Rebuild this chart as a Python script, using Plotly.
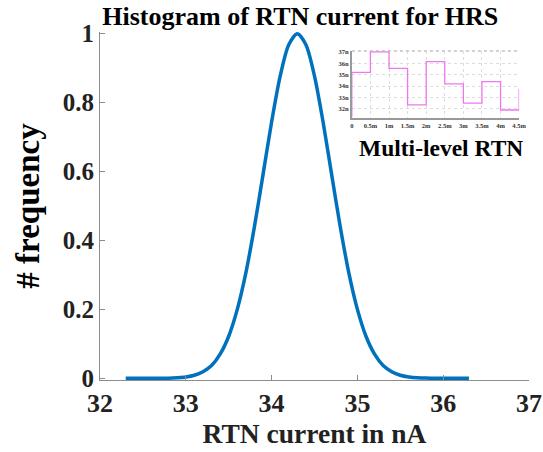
import plotly.graph_objects as go

# Normalised histogram envelope of RTN current (HRS)
current_nA = [32.3, 32.4, 32.5, 32.6, 32.7, 32.8, 32.9, 33.0, 33.1, 33.2,
              33.3, 33.4, 33.5, 33.6, 33.7, 33.8, 33.9, 34.0, 34.1, 34.2,
              34.3, 34.4, 34.5, 34.6, 34.7, 34.8, 34.9, 35.0, 35.1, 35.2,
              35.3, 35.4, 35.5, 35.6, 35.7, 35.8, 35.9, 36.0, 36.1, 36.2, 36.3]
frequency = [0.0, 0.0, 0.0, 0.0, 0.0, 0.0002, 0.0016, 0.0039, 0.0088, 0.019,
             0.037, 0.070, 0.122, 0.200, 0.306, 0.440, 0.591, 0.744, 0.877, 0.968,
             1.0, 0.968, 0.877, 0.744, 0.591, 0.440, 0.306, 0.200, 0.122, 0.070,
             0.037, 0.019, 0.0088, 0.0039, 0.0016, 0.0006, 0.0002, 0.0, 0.0, 0.0, 0.0]

# Multi-level RTN trace (time in s, current in nA)
rtn_time = [0, 0, 0.0005, 0.001, 0.0015, 0.002, 0.0025, 0.003, 0.0035, 0.004, 0.0045]
rtn_level = [31.3, 35.2, 37.0, 35.55, 32.35, 36.15, 34.2, 32.5, 34.4, 31.9, 33.75]

x_ticks = [32, 33, 34, 35, 36, 37]
y_ticks = [0, 0.2, 0.4, 0.6, 0.8, 1]
y_ticktext = ["0", "0.2", "0.4", "0.6", "0.8", "1"]
inset_xticks = [0, 0.0005, 0.001, 0.0015, 0.002, 0.0025, 0.003, 0.0035, 0.004, 0.0045]
inset_xtext = ["0", "0.5m", "1m", "1.5m", "2m", "2.5m", "3m", "3.5m", "4m", "4.5m"]
inset_yticks = [32, 33, 34, 35, 36, 37]
inset_ytext = ["32n", "33n", "34n", "35n", "36n", "37n"]

SERIF = "Liberation Serif, Times New Roman, serif"
AXIS_GRAY = "#8c8c8c"

fig = go.Figure()

fig.add_trace(go.Scatter(
    x=current_nA, y=frequency, mode="lines",
    line=dict(color="#0072BD", width=3.5, shape="spline", smoothing=0.8),
    xaxis="x", yaxis="y", showlegend=False,
))

fig.add_trace(go.Scatter(
    x=rtn_time, y=rtn_level, mode="lines",
    line=dict(color="#EE77EE", width=1.3, shape="hv"),
    xaxis="x2", yaxis="y2", showlegend=False,
))

fig.update_layout(
    width=543, height=452,
    margin=dict(l=100, r=14, t=32, b=72, autoexpand=False),
    paper_bgcolor="white", plot_bgcolor="white",
    font=dict(family=SERIF, color="black"),
    title=dict(
        text="<b>Histogram of RTN current for HRS</b>",
        x=0.553, xanchor="center", y=0.964, yanchor="middle",
        font=dict(family=SERIF, size=26, color="black"),
    ),
    xaxis=dict(
        range=[32, 37], tickvals=x_ticks, ticktext=["<b>%d</b>" % v for v in x_ticks],
        showgrid=False, zeroline=False, showline=True, linecolor=AXIS_GRAY, linewidth=1,
        ticks="inside", ticklen=5, tickcolor=AXIS_GRAY, automargin=False,
        tickfont=dict(family=SERIF, size=26, color="#222"),
        title=dict(text="<b>RTN current in nA</b>", font=dict(family=SERIF, size=27.5, color="#222"), standoff=4),
    ),
    yaxis=dict(
        range=[-0.005, 1.005], tickvals=y_ticks, ticktext=["<b>%s</b>" % t for t in y_ticktext],
        showgrid=False, zeroline=False, showline=True, linecolor=AXIS_GRAY, linewidth=1,
        ticks="inside", ticklen=5, tickcolor=AXIS_GRAY, automargin=False,
        tickfont=dict(family=SERIF, size=25, color="#222"),
        title=dict(text="<b># frequency</b>", font=dict(family=SERIF, size=33, color="black"), standoff=13),
    ),
    xaxis2=dict(
        domain=[0.587, 0.977], anchor="y2", range=[0, 0.0045],
        tickvals=inset_xticks, ticktext=["<b>%s</b>" % t for t in inset_xtext],
        showgrid=True, gridcolor="#dddddd", griddash="dot", gridwidth=1,
        zeroline=False, showline=True, linecolor="#999999", linewidth=2,
        ticks="", tickfont=dict(family=SERIF, size=6.5, color="#333"), automargin=False,
    ),
    yaxis2=dict(
        domain=[0.753, 0.946], anchor="x2", range=[31.2, 37.1],
        tickvals=inset_yticks, ticktext=["<b>%s</b>" % t for t in inset_ytext],
        showgrid=True, gridcolor="#dddddd", griddash="dot", gridwidth=1,
        zeroline=False, showline=True, linecolor="#999999", linewidth=2,
        ticks="", tickfont=dict(family=SERIF, size=6.5, color="#333"), automargin=False,
    ),
    annotations=[
        dict(text="<b>Multi-level RTN</b>", xref="paper", yref="paper",
             x=0.795, y=0.667, xanchor="center", yanchor="middle", showarrow=False,
             font=dict(family=SERIF, size=23.5, color="black")),
    ],
    shapes=[
        # dotted border along the top of the inset
        dict(type="line", xref="x2 domain", yref="y2 domain", x0=0, x1=1, y0=1, y1=1,
             line=dict(color="#bbbbbb", width=1, dash="dot")),
    ],
)

fig.write_html("out.html")
